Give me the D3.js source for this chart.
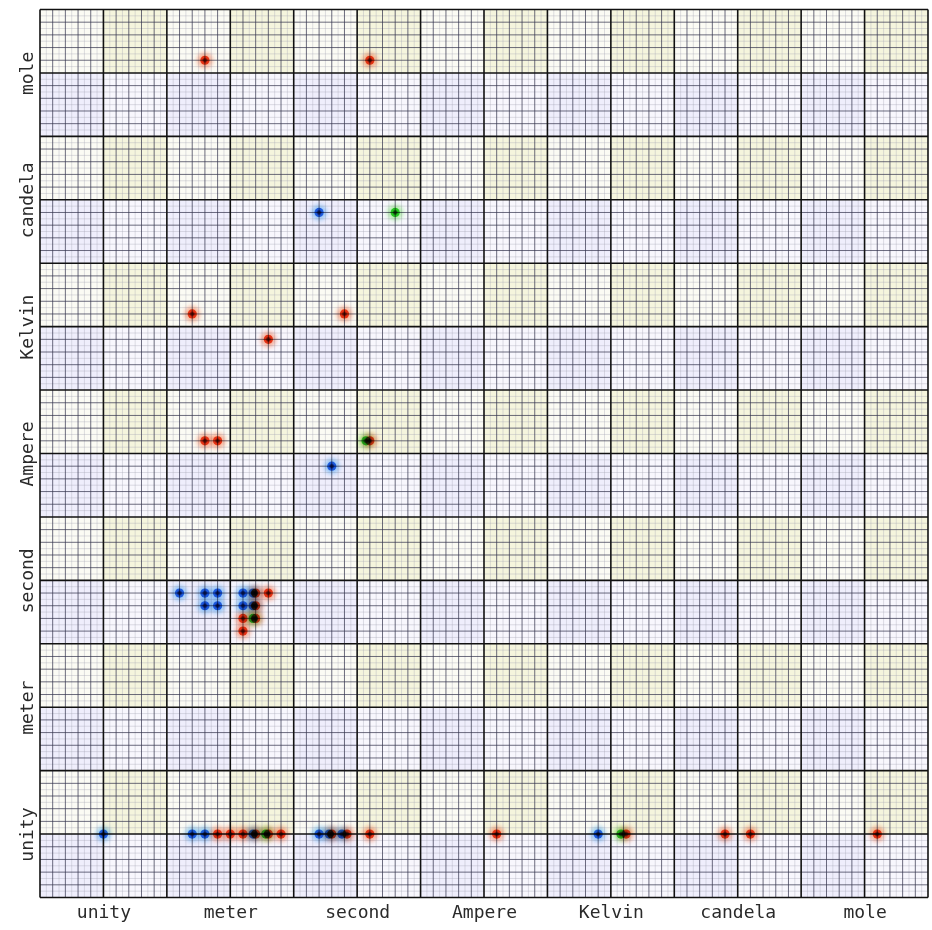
<!DOCTYPE html>
<html>
<head>
<meta charset="utf-8">
<script src="https://cdn.jsdelivr.net/npm/d3@7"></script>
<style>
  html, body { margin: 0; padding: 0; background: #ffffff; }
  svg { display: block; }
  .lbl text { font-family: "DejaVu Sans Mono", monospace; font-size: 18px; fill: #2a2a2a; }
</style>
</head>
<body>
<svg id="chart" width="932" height="930"></svg>
<script>
// Base units along both axes
const xCategories = ["unity", "meter", "second", "Ampere", "Kelvin", "candela", "mole"];
const yCategories = ["unity", "meter", "second", "Ampere", "Kelvin", "candela", "mole"];

// Quantities: position in unit space (category index + exponent / 10) and series
const pointX = [
  0.0, 0.7, 0.8, 0.9, 1.0, 1.1, 1.18, 1.2, 1.28, 1.3, 1.4,
  1.7, 1.78, 1.8, 1.88, 1.92, 2.1, 3.1, 3.9, 4.08, 4.12, 4.9, 5.1, 6.1,
  0.6, 0.8, 0.9, 1.1, 1.18, 1.2, 1.3,
  0.8, 0.9, 1.1, 1.18, 1.2,
  1.1, 1.18, 1.2,
  1.1,
  0.8, 0.9, 2.07, 2.1,
  1.8,
  0.7, 1.9,
  1.3,
  1.7, 2.3,
  0.8, 2.1
];
const pointY = [
  0, 0, 0, 0, 0, 0, 0, 0, 0, 0, 0,
  0, 0, 0, 0, 0, 0, 0, 0, 0, 0, 0, 0, 0,
  1.9, 1.9, 1.9, 1.9, 1.9, 1.9, 1.9,
  1.8, 1.8, 1.8, 1.8, 1.8,
  1.7, 1.7, 1.7,
  1.6,
  3.1, 3.1, 3.1, 3.1,
  2.9,
  4.1, 4.1,
  3.9,
  4.9, 4.9,
  6.1, 6.1
];
const pointSeries = [
  "b", "b", "b", "r", "r", "r", "b", "r", "g", "r", "r",
  "b", "b", "r", "b", "r", "r", "r", "b", "g", "r", "r", "r", "r",
  "b", "b", "b", "b", "b", "r", "r",
  "b", "b", "b", "b", "r",
  "r", "g", "r",
  "r",
  "r", "r", "g", "r",
  "b",
  "r", "r",
  "r",
  "b", "g",
  "r", "r"
];

const palette = {
  b: { core: "#2f74e6", dark: "#0c2470", halo: "#8fcaf7" },
  r: { core: "#ee4a22", dark: "#7a1206", halo: "#fba488" },
  g: { core: "#35d630", dark: "#0f5a0c", halo: "#a6f29a" }
};

const plotLeft = 40, plotRight = 928, plotTop = 9.5, plotBottom = 897.5;

const x = d3.scaleLinear().domain([-0.5, 6.5]).range([plotLeft, plotRight]);
const y = d3.scaleLinear().domain([-0.5, 6.5]).range([plotBottom, plotTop]);

const svg = d3.select("#chart");
const defs = svg.append("defs");

defs.append("filter").attr("id", "glow")
  .attr("x", "-100%").attr("y", "-100%").attr("width", "300%").attr("height", "300%")
  .append("feGaussianBlur").attr("stdDeviation", 2.8);

Object.entries(palette).forEach(([k, c]) => {
  const g = defs.append("radialGradient").attr("id", "dot-" + k);
  g.append("stop").attr("offset", "0%").attr("stop-color", c.dark);
  g.append("stop").attr("offset", "30%").attr("stop-color", c.dark);
  g.append("stop").attr("offset", "65%").attr("stop-color", c.core);
  g.append("stop").attr("offset", "100%").attr("stop-color", c.core);
});

// Checkered background cells, half a unit wide
const cellSteps = d3.range(14);
const cells = [];
cellSteps.forEach(r => cellSteps.forEach(c => cells.push({ r, c })));
const cellFill = d => {
  if (d.r % 2 === 0) return d.c % 2 === 1 ? "#f5f5dd" : "#fbfbf4";
  return d.c % 2 === 0 ? "#efeefc" : "#f8f7fd";
};
svg.append("g").selectAll("rect").data(cells).join("rect")
  .attr("x", d => x(-0.5 + d.c * 0.5))
  .attr("y", d => y(6.5 - d.r * 0.5))
  .attr("width", x(0) - x(-0.5))
  .attr("height", y(-0.5) - y(0))
  .attr("fill", cellFill);

// Grid: fine lines every 0.05, minor every 0.1, major every 0.5
const gridIdx = d3.range(0, 141);
const gridVal = k => -0.5 + k * 0.05;
const level = k => (k % 10 === 0 ? 2 : k % 2 === 0 ? 1 : 0);
const gridStyle = [
  { stroke: "#a4a4b4", width: 0.6, opacity: 0.6 },
  { stroke: "#34344e", width: 1, opacity: 0.72 },
  { stroke: "#111111", width: 1.6, opacity: 1 }
];
[0, 1, 2].forEach(lv => {
  const ks = gridIdx.filter(k => level(k) === lv);
  const gg = svg.append("g")
    .attr("stroke", gridStyle[lv].stroke)
    .attr("stroke-width", gridStyle[lv].width)
    .attr("stroke-opacity", gridStyle[lv].opacity);
  gg.selectAll("line.v").data(ks).join("line").attr("class", "v")
    .attr("x1", k => x(gridVal(k))).attr("x2", k => x(gridVal(k)))
    .attr("y1", plotTop).attr("y2", plotBottom);
  gg.selectAll("line.h").data(ks).join("line").attr("class", "h")
    .attr("y1", k => y(gridVal(k))).attr("y2", k => y(gridVal(k)))
    .attr("x1", plotLeft).attr("x2", plotRight);
});

// Axis labels
const xAxis = d3.axisBottom(x).tickValues(d3.range(xCategories.length))
  .tickFormat(i => xCategories[i]).tickSize(0).tickPadding(8);
svg.append("g").attr("class", "lbl").attr("transform", `translate(0,${plotBottom})`)
  .call(xAxis).call(g => g.select(".domain").remove())
  .selectAll("text").attr("font-family", null).attr("font-size", null);

const yAxis = d3.axisLeft(y).tickValues(d3.range(yCategories.length))
  .tickFormat(i => yCategories[i]).tickSize(0).tickPadding(0);
svg.append("g").attr("class", "lbl").attr("transform", `translate(${plotLeft},0)`)
  .call(yAxis).call(g => g.select(".domain").remove())
  .selectAll("text")
  .attr("font-family", null).attr("font-size", null)
  .attr("x", 0).attr("dy", 0).attr("text-anchor", "middle")
  .attr("transform", "translate(-7,0) rotate(-90)");

// Points with soft halo
const pts = d3.range(pointX.length).map(i => ({ x: pointX[i], y: pointY[i], s: pointSeries[i] }));
const pg = svg.append("g");
pg.selectAll("circle.halo").data(pts).join("circle").attr("class", "halo")
  .attr("cx", d => x(d.x)).attr("cy", d => y(d.y)).attr("r", 7.5)
  .attr("fill", d => palette[d.s].halo).attr("opacity", 0.95)
  .attr("filter", "url(#glow)")
  .style("mix-blend-mode", "multiply");
pg.selectAll("circle.dot").data(pts).join("circle").attr("class", "dot")
  .attr("cx", d => x(d.x)).attr("cy", d => y(d.y)).attr("r", 4.6)
  .attr("fill", d => `url(#dot-${d.s})`)
  .style("mix-blend-mode", "multiply");
</script>
</body>
</html>
